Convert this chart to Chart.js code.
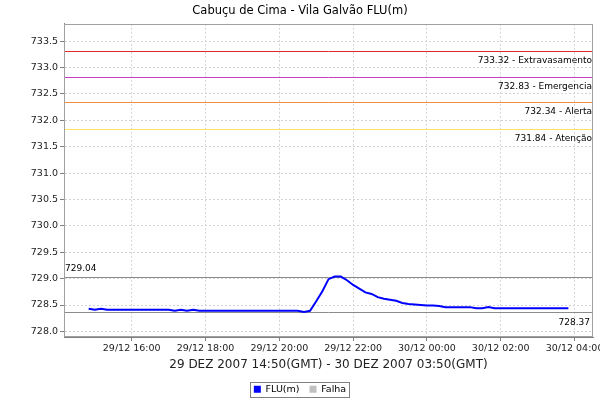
<!DOCTYPE html>
<html><head><meta charset="utf-8">
<script src="https://cdn.jsdelivr.net/npm/chart.js@4/dist/chart.umd.min.js"></script>
<style>html,body{margin:0;padding:0;background:#fff}</style>
</head><body>
<canvas id="c" width="600" height="400"></canvas>
<script>
const chartTitle = "Cabuçu de Cima - Vila Galvão FLU(m)";
const xAxisTitle = "29 DEZ 2007 14:50(GMT) - 30 DEZ 2007 03:50(GMT)";
const times = [
 "29/12 14:50","29/12 15:00","29/12 15:10","29/12 15:20","29/12 15:30","29/12 15:40","29/12 15:50",
 "29/12 16:00","29/12 16:10","29/12 16:20","29/12 16:30","29/12 16:40","29/12 16:50",
 "29/12 17:00","29/12 17:10","29/12 17:20","29/12 17:30","29/12 17:40","29/12 17:50",
 "29/12 18:00","29/12 18:10","29/12 18:20","29/12 18:30","29/12 18:40","29/12 18:50",
 "29/12 19:00","29/12 19:10","29/12 19:20","29/12 19:30","29/12 19:40","29/12 19:50",
 "29/12 20:00","29/12 20:10","29/12 20:20","29/12 20:30","29/12 20:40","29/12 20:50",
 "29/12 21:00","29/12 21:10","29/12 21:20","29/12 21:30","29/12 21:40","29/12 21:50",
 "29/12 22:00","29/12 22:10","29/12 22:20","29/12 22:30","29/12 22:40","29/12 22:50",
 "29/12 23:00","29/12 23:10","29/12 23:20","29/12 23:30","29/12 23:40","29/12 23:50",
 "30/12 00:00","30/12 00:10","30/12 00:20","30/12 00:30","30/12 00:40","30/12 00:50",
 "30/12 01:00","30/12 01:10","30/12 01:20","30/12 01:30","30/12 01:40","30/12 01:50",
 "30/12 02:00","30/12 02:10","30/12 02:20","30/12 02:30","30/12 02:40","30/12 02:50",
 "30/12 03:00","30/12 03:10","30/12 03:20","30/12 03:30","30/12 03:40","30/12 03:50"
];
const fluValues = [
 728.43,728.41,728.43,728.41,728.41,728.41,728.41,
 728.41,728.41,728.41,728.41,728.41,728.41,
 728.41,728.39,728.41,728.39,728.41,728.39,
 728.39,728.39,728.39,728.39,728.39,728.39,
 728.39,728.39,728.39,728.39,728.39,728.39,
 728.39,728.39,728.39,728.39,728.37,728.39,
 728.57,728.76,728.99,729.04,729.04,728.97,
 728.88,728.81,728.74,728.71,728.65,728.62,
 728.60,728.58,728.54,728.52,728.51,728.50,
 728.49,728.49,728.48,728.46,728.46,728.46,
 728.46,728.46,728.44,728.44,728.46,728.44,
 728.44,728.44,728.44,728.44,728.44,728.44,
 728.44,728.44,728.44,728.44,728.44,728.44
];
const thresholdValues = [733.32, 732.83, 732.34, 731.84];
const thresholdNames = ["Extravasamento", "Emergencia", "Alerta", "Atenção"];
const thresholdColors = ["#e02828", "#c83cc8", "#f08c3c", "#ffe060"];
const maxLevel = 729.04;
const minLevel = 728.37;
const yTicks = [728.0,728.5,729.0,729.5,730.0,730.5,731.0,731.5,732.0,732.5,733.0,733.5];
const xTickHours = [16,18,20,22,24,26,28];
const xTickLabels = ["29/12 16:00","29/12 18:00","29/12 20:00","29/12 22:00","30/12 00:00","30/12 02:00","30/12 04:00"];
const xRange = [14.165, 28.5];
const yRange = [727.894, 733.83];

function toHours(s){
  const d = parseInt(s.slice(0,2),10);
  const hh = parseInt(s.slice(6,8),10), mm = parseInt(s.slice(9,11),10);
  return (d-29)*24 + hh + mm/60;
}
const fluPoints = times.map((t,i)=>({x:toHours(t), y:fluValues[i]}));

const FONT = "'DejaVu Sans', sans-serif";
Chart.defaults.font.family = FONT;

const datasets = [
  {label:"FLU(m)", data:fluPoints, borderColor:"#0000ff", backgroundColor:"#0000ff", borderWidth:2, pointRadius:0, tension:0},
  {label:"Falha", data:[], borderColor:"#c0c0c0", backgroundColor:"#c0c0c0", borderWidth:0, pointRadius:0}
];

function hline(ctx, a, y, color){
  const py = Math.round(y) + 0.5;
  ctx.strokeStyle = color; ctx.lineWidth = 1;
  ctx.beginPath(); ctx.moveTo(a.left, py); ctx.lineTo(a.right, py); ctx.stroke();
}

const markers = {
  id:'markers',
  beforeDatasetsDraw(chart){
    const {ctx, chartArea:a} = chart;
    const ys = chart.scales.y;
    ctx.save();
    thresholdValues.forEach((v,i)=>hline(ctx, a, ys.getPixelForValue(v), thresholdColors[i]));
    hline(ctx, a, ys.getPixelForValue(maxLevel), '#8c8c8c');
    hline(ctx, a, ys.getPixelForValue(minLevel), '#8c8c8c');
    ctx.restore();
  },
  afterDraw(chart){
    const {ctx, chartArea:a} = chart;
    ctx.save();
    ctx.strokeStyle = '#a0a0a0'; ctx.lineWidth = 1;
    ctx.strokeRect(Math.round(a.left)+0.5, Math.round(a.top)+0.5, Math.round(a.right-a.left)-1, Math.round(a.bottom-a.top)-1);
    const ys = chart.scales.y;
    ctx.fillStyle = '#000';
    ctx.font = "9px " + FONT;
    ctx.textAlign = 'right'; ctx.textBaseline = 'alphabetic';
    thresholdValues.forEach((v,i)=>{
      ctx.fillText(v.toFixed(2) + " - " + thresholdNames[i], a.right - 1, Math.round(ys.getPixelForValue(v)) + 12);
    });
    ctx.fillText(minLevel.toFixed(2), a.right - 3, Math.round(ys.getPixelForValue(minLevel)) + 13);
    ctx.textAlign = 'left';
    ctx.fillText(maxLevel.toFixed(2), a.left + 1, Math.round(ys.getPixelForValue(maxLevel)) - 6);
    const lg = chart.legend;
    if (lg && lg.legendHitBoxes && lg.legendHitBoxes.length){
      const hb = lg.legendHitBoxes;
      const l = Math.min(...hb.map(h=>h.left)), r = Math.max(...hb.map(h=>h.left+h.width));
      const t = Math.min(...hb.map(h=>h.top)), b = Math.max(...hb.map(h=>h.top+h.height));
      ctx.strokeStyle = '#808080';
      ctx.strokeRect(Math.round(l-4)+0.5, Math.round(t-3)+0.5, Math.round(r-l+7), Math.round(b-t+5));
    }
    ctx.restore();
  }
};

new Chart(document.getElementById('c'), {
  type:'line',
  data:{datasets},
  options:{
    responsive:false, animation:false, devicePixelRatio:1,
    layout:{padding:{left:0,right:0,top:0,bottom:-4}},
    plugins:{
      title:{display:true, text:chartTitle, color:'#000', font:{size:11.5, weight:'normal'}, padding:{top:4,bottom:6}},
      legend:{display:true, position:'bottom',
        labels:{boxWidth:7, boxHeight:7, padding:10, color:'#000', font:{size:9.5},
          filter:(it)=>it.datasetIndex<2,
          generateLabels:(chart)=>Chart.defaults.plugins.legend.labels.generateLabels(chart).map(l=>Object.assign(l,{lineWidth:0}))}},
      tooltip:{enabled:false}
    },
    scales:{
      x:{type:'linear', min:xRange[0], max:xRange[1],
        afterBuildTicks:(s)=>{s.ticks = xTickHours.map(v=>({value:v}));},
        afterFit:(s)=>{s.height = 37.5; s.paddingLeft = 0; s.paddingRight = 0;},
        ticks:{autoSkip:false, maxRotation:0, font:{size:9.5}, color:'#222', padding:2,
          callback:(v)=>{const i=xTickHours.indexOf(v); return i>=0?xTickLabels[i]:'';}},
        grid:{color:'#d4d4d4', tickColor:'#808080', tickLength:4, lineWidth:1},
        border:{display:true, color:'#808080', dash:[2,2]},
        title:{display:true, text:xAxisTitle, color:'#222', font:{size:12}, padding:{top:1,bottom:2.3}}
      },
      y:{type:'linear', min:yRange[0], max:yRange[1],
        afterBuildTicks:(s)=>{s.ticks = yTicks.map(v=>({value:v}));},
        afterFit:(s)=>{s.width = 64; s.paddingTop = 0; s.paddingBottom = 0;},
        ticks:{autoSkip:false, font:{size:9.5}, color:'#222', padding:2, callback:(v)=>Number(v).toFixed(1)},
        grid:{color:'#d4d4d4', tickColor:'#808080', tickLength:4, lineWidth:1},
        border:{display:true, color:'#808080', dash:[2,2]}
      },
      yRight:{type:'linear', position:'right', display:true, min:yRange[0], max:yRange[1],
        afterFit:(s)=>{s.width = 7; s.paddingTop = 0; s.paddingBottom = 0;},
        ticks:{display:false}, grid:{display:false, drawTicks:false}, border:{display:false}
      }
    }
  },
  plugins:[markers]
});
</script>
</body></html>
